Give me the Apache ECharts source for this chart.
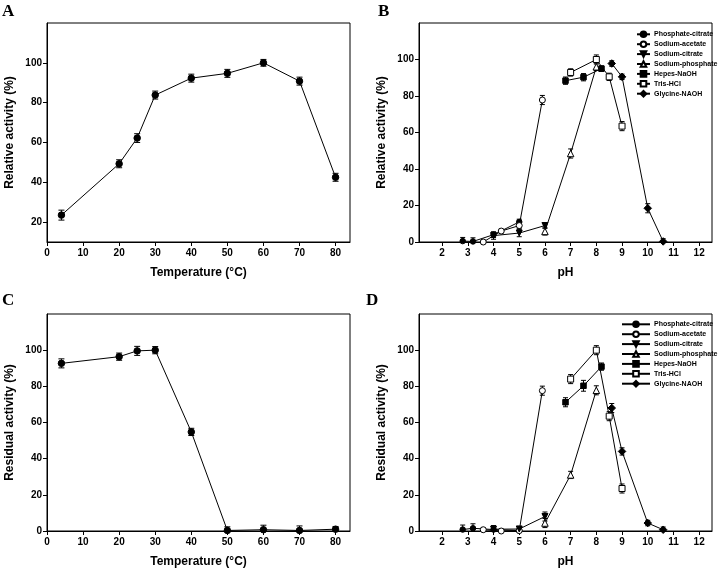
<!DOCTYPE html>
<html>
<head>
<meta charset="utf-8">
<script src="https://cdn.jsdelivr.net/npm/echarts@6/dist/echarts.min.js"></script>
<style>
html,body{margin:0;padding:0;background:#fff;}
#chart{width:724px;height:573px;}
</style>
</head>
<body>
<div id="chart"></div>
<script>
// ---------- Panel A: temperature vs relative activity ----------
const tempA = [4, 20, 25, 30, 40, 50, 60, 70, 80];
const relActA = [23.5, 49.3, 62.2, 83.8, 92.3, 94.7, 100, 90.8, 42.5];
const relErrA = [2.5, 2, 2.2, 2, 2, 2, 1.7, 2, 2];

// ---------- Panel C: temperature vs residual activity ----------
const tempC = [4, 20, 25, 30, 40, 50, 60, 70, 80];
const resActC = [92.7, 96.4, 99.6, 100, 54.8, 0.3, 0.7, 0.3, 1.0];
const resErrC = [2.5, 2, 2.5, 2, 2, 2, 2.5, 2.5, 1.5];

// ---------- Buffers ----------
const bufferNames = ['Phosphate-citrate', 'Sodium-acetate', 'Sodium-citrate', 'Sodium-phosphate', 'Hepes-NaOH', 'Tris-HCl', 'Glycine-NAOH'];

// ---------- Panel B: pH vs relative activity ----------
const phB_phosphateCitrate = [2.8, 3.2, 4, 5];
const actB_phosphateCitrate = [0.5, 0.3, 4, 11];
const errB_phosphateCitrate = [2, 2, 1.5, 1.5];
const phB_sodiumAcetate = [3.6, 4.3, 5, 5.9];
const actB_sodiumAcetate = [0, 6, 9, 77.8];
const errB_sodiumAcetate = [1, 1, 1.5, 2.5];
const phB_sodiumCitrate = [4, 5, 6];
const actB_sodiumCitrate = [3.5, 4.9, 9];
const errB_sodiumCitrate = [2, 2, 1.5];
const phB_sodiumPhosphate = [6, 7, 8];
const actB_sodiumPhosphate = [5.8, 48.5, 96];
const errB_sodiumPhosphate = [2, 2.5, 2];
const phB_hepes = [6.8, 7.5, 8.2];
const actB_hepes = [88.4, 90.3, 95];
const errB_hepes = [2, 2, 1.5];
const phB_tris = [7, 8, 8.5, 9];
const actB_tris = [92.9, 100, 90.5, 63.5];
const errB_tris = [2, 2.5, 2, 2.5];
const phB_glycine = [8.6, 9, 10, 10.6];
const actB_glycine = [97.8, 90.5, 18.5, 0.3];
const errB_glycine = [1.5, 1.5, 2.5, 1.5];

// ---------- Panel D: pH vs residual activity ----------
const phD_phosphateCitrate = [2.8, 3.2, 4, 5];
const actD_phosphateCitrate = [0.8, 1.5, 0.8, 0.3];
const errD_phosphateCitrate = [2.5, 2.5, 2, 2];
const phD_sodiumAcetate = [3.6, 4.3, 5, 5.9];
const actD_sodiumAcetate = [0.7, 0, 0.2, 77.6];
const errD_sodiumAcetate = [1, 1, 1, 2.5];
const phD_sodiumCitrate = [4, 5, 6];
const actD_sodiumCitrate = [1, 1.1, 8];
const errD_sodiumCitrate = [2, 1.5, 2.5];
const phD_sodiumPhosphate = [6, 7, 8];
const actD_sodiumPhosphate = [4.4, 31, 77.8];
const errD_sodiumPhosphate = [2.5, 2, 2.5];
const phD_hepes = [6.8, 7.5, 8.2];
const actD_hepes = [71.2, 80.3, 90.9];
const errD_hepes = [2.5, 3, 2];
const phD_tris = [7, 8, 8.5, 9];
const actD_tris = [84, 100, 63.5, 23.5];
const errD_tris = [2.5, 2.5, 2.5, 2.5];
const phD_glycine = [8.6, 9, 10, 10.6];
const actD_glycine = [68, 44, 4.4, 0.7];
const errD_glycine = [2.5, 2, 1.5, 1.5];

// ---------- Axis tick labels ----------
const tempTicks = [0, 10, 20, 30, 40, 50, 60, 70, 80];
const phTicks = [2, 3, 4, 5, 6, 7, 8, 9, 10, 11, 12];
const actTicksA = [20, 40, 60, 80, 100];
const actTicks = [0, 20, 40, 60, 80, 100];

// ---------- styling ----------
const FONT = "'Liberation Sans', Arial, sans-serif";
const symbolStyles = [
  {symbol: 'circle', rotate: 0, size: 5.5, fill: '#000'},
  {symbol: 'circle', rotate: 0, size: 6, fill: '#fff'},
  {symbol: 'triangle', rotate: 180, size: 6, fill: '#000'},
  {symbol: 'triangle', rotate: 0, size: 6.5, fill: '#fff'},
  {symbol: 'rect', rotate: 0, size: 5.5, fill: '#000'},
  {symbol: 'rect', rotate: 0, size: 6, fill: '#fff'},
  {symbol: 'diamond', rotate: 0, size: 7.5, fill: '#000'}
];
const bufB = [
  [phB_phosphateCitrate, actB_phosphateCitrate, errB_phosphateCitrate],
  [phB_sodiumAcetate, actB_sodiumAcetate, errB_sodiumAcetate],
  [phB_sodiumCitrate, actB_sodiumCitrate, errB_sodiumCitrate],
  [phB_sodiumPhosphate, actB_sodiumPhosphate, errB_sodiumPhosphate],
  [phB_hepes, actB_hepes, errB_hepes],
  [phB_tris, actB_tris, errB_tris],
  [phB_glycine, actB_glycine, errB_glycine]
];
const bufD = [
  [phD_phosphateCitrate, actD_phosphateCitrate, errD_phosphateCitrate],
  [phD_sodiumAcetate, actD_sodiumAcetate, errD_sodiumAcetate],
  [phD_sodiumCitrate, actD_sodiumCitrate, errD_sodiumCitrate],
  [phD_sodiumPhosphate, actD_sodiumPhosphate, errD_sodiumPhosphate],
  [phD_hepes, actD_hepes, errD_hepes],
  [phD_tris, actD_tris, errD_tris],
  [phD_glycine, actD_glycine, errD_glycine]
];

function zip(xs, ys) { return xs.map((x, i) => [x, ys[i]]); }
function zip3(xs, ys, es) { return xs.map((x, i) => [x, ys[i], es[i]]); }

function errSeries(idx, data, yMin, capW) {
  return {
    type: 'custom', xAxisIndex: idx, yAxisIndex: idx, z: 1, silent: true,
    data: data,
    renderItem: function (params, api) {
      const x = api.value(0), y = api.value(1), e = api.value(2);
      const top = api.coord([x, y + e]);
      const lowVal = Math.max(y - e, yMin);
      const bot = api.coord([x, lowVal]);
      const st = {stroke: '#000', lineWidth: 1};
      const children = [
        {type: 'line', shape: {x1: top[0], y1: top[1], x2: bot[0], y2: bot[1]}, style: st},
        {type: 'line', shape: {x1: top[0] - capW, y1: top[1], x2: top[0] + capW, y2: top[1]}, style: st}
      ];
      if (y - e > yMin) {
        children.push({type: 'line', shape: {x1: bot[0] - capW, y1: bot[1], x2: bot[0] + capW, y2: bot[1]}, style: st});
      }
      return {type: 'group', children: children};
    }
  };
}

function lineSeries(idx, name, data, sym, size) {
  return {
    type: 'line', name: name, xAxisIndex: idx, yAxisIndex: idx, z: 3,
    data: data, symbol: sym.symbol, symbolRotate: sym.rotate, symbolSize: size || sym.size,
    showAllSymbol: true,
    lineStyle: {color: '#000', width: 1},
    itemStyle: {color: sym.fill, borderColor: '#000', borderWidth: 1},
    emphasis: {disabled: true}
  };
}

const grids = [
  {left: 47, top: 23, width: 303, height: 219},
  {left: 419, top: 23, width: 293, height: 219},
  {left: 47, top: 314, width: 303, height: 217},
  {left: 419, top: 314, width: 293, height: 217}
].map(g => Object.assign(g, {show: true, borderColor: '#000', borderWidth: 1, backgroundColor: 'transparent', containLabel: false, outerBoundsMode: 'none'}));

function xAxis(idx, name, min, max, ticks) {
  return {
    type: 'value', gridIndex: idx, min: min, max: max,
    name: name, nameLocation: 'middle', nameGap: 25,
    nameTextStyle: {fontFamily: FONT, fontWeight: 'bold', fontSize: 12, color: '#000'},
    axisLine: {show: true, lineStyle: {color: '#000', width: 1}},
    axisTick: {show: true, inside: false, length: 4, customValues: ticks, lineStyle: {color: '#000'}},
    axisLabel: {show: true, margin: 6, customValues: ticks, fontFamily: FONT, fontWeight: 'bold', fontSize: 10, color: '#000', showMinLabel: true, showMaxLabel: true},
    splitLine: {show: false}
  };
}
function yAxis(idx, name, min, max, ticks) {
  return {
    type: 'value', gridIndex: idx, min: min, max: max,
    name: name, nameLocation: 'middle', nameGap: 31,
    nameTextStyle: {fontFamily: FONT, fontWeight: 'bold', fontSize: 12, color: '#000'},
    axisLine: {show: true, lineStyle: {color: '#000', width: 1}},
    axisTick: {show: true, inside: false, length: 4, customValues: ticks, lineStyle: {color: '#000'}},
    axisLabel: {show: true, margin: 5, customValues: ticks, fontFamily: FONT, fontWeight: 'bold', fontSize: 10, color: '#000'},
    splitLine: {show: false}
  };
}

const series = [];
// Panel A
series.push(errSeries(0, zip3(tempA, relActA, relErrA), 10, 3));
series.push(lineSeries(0, 'Temperature profile', zip(tempA, relActA), symbolStyles[0], 6.5));
// Panel C
series.push(errSeries(2, zip3(tempC, resActC, resErrC), 0, 3));
series.push(lineSeries(2, 'Thermostability', zip(tempC, resActC), symbolStyles[0], 6.5));
// Panel B & D
bufferNames.forEach((nm, i) => {
  const b = bufB[i];
  series.push(errSeries(1, zip3(b[0], b[1], b[2]), 0, 2.5));
  series.push(lineSeries(1, nm, zip(b[0], b[1]), symbolStyles[i]));
});
bufferNames.forEach((nm, i) => {
  const d = bufD[i];
  series.push(errSeries(3, zip3(d[0], d[1], d[2]), 0, 2.5));
  series.push(lineSeries(3, nm, zip(d[0], d[1]), symbolStyles[i]));
});

const legendCommon = {
  data: bufferNames, orient: 'vertical', itemHeight: 7, itemGap: 2.3,
  selectedMode: false,
  textStyle: {fontFamily: FONT, fontWeight: 'bold', fontSize: 7, color: '#000', lineHeight: 7, padding: [0, 0, 0, -1]},
  padding: 0
};

function letter(txt, x, y) {
  return {type: 'text', left: x, top: y, style: {text: txt, font: "bold 17px 'Liberation Serif', 'Times New Roman', serif", fill: '#000'}};
}

const option = {
  animation: false,
  backgroundColor: '#fff',
  grid: grids,
  xAxis: [
    xAxis(0, 'Temperature (°C)', 0, 84, tempTicks),
    xAxis(1, 'pH', 1.1, 12.5, phTicks),
    xAxis(2, 'Temperature (°C)', 0, 84, tempTicks),
    xAxis(3, 'pH', 1.1, 12.5, phTicks)
  ],
  yAxis: [
    yAxis(0, 'Relative activity (%)', 10, 120, actTicksA),
    yAxis(1, 'Relative activity (%)', 0, 120, actTicks),
    yAxis(2, 'Residual activity (%)', 0, 120, actTicks),
    yAxis(3, 'Residual activity (%)', 0, 120, actTicks)
  ],
  legend: [
    Object.assign({left: 636, top: 30.5, itemWidth: 13}, legendCommon),
    Object.assign({left: 621, top: 320.5, itemWidth: 28}, legendCommon)
  ],
  graphic: [
    letter('A', 2, 3),
    letter('B', 378, 3),
    letter('C', 2, 292),
    letter('D', 366, 292)
  ],
  series: series
};

const chart = echarts.init(document.getElementById('chart'), null, {renderer: 'canvas'});
chart.setOption(option);
</script>
</body>
</html>
